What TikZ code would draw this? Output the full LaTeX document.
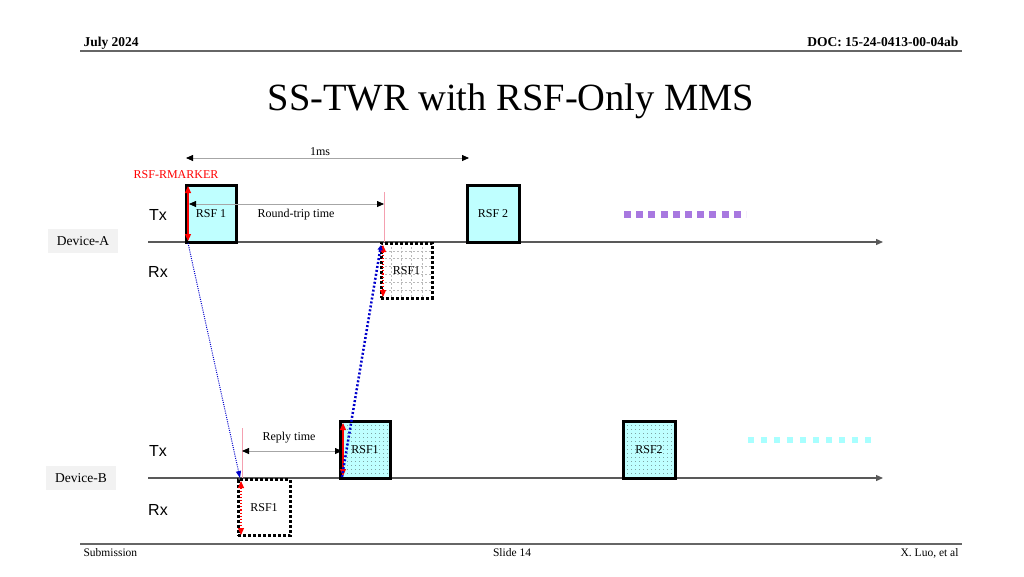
\documentclass[tikz,border=0pt]{standalone}
\usepackage{fontspec}
\setmainfont{Liberation Serif}
\newfontfamily\txfont{Liberation Sans}
\usetikzlibrary{arrows.meta,patterns,patterns.meta,calc}
\definecolor{cyanfill}{HTML}{BFFFFF}
\definecolor{purpsq}{HTML}{A878E0}
\definecolor{cyansq}{HTML}{A8FFFF}
\definecolor{lgray}{HTML}{F2F2F2}
\definecolor{pinkline}{HTML}{F4A0B0}
\begin{document}
\begin{tikzpicture}[x=1pt,y=-1pt,
  txbox/.style={draw=black,line width=3pt,fill=cyanfill,inner sep=0pt,outer sep=0pt,font=\fontsize{12}{13}\selectfont},
  dotbox/.style={txbox,fill=none,preaction={fill=cyanfill},pattern={Dots[distance=4pt,radius=0.45pt]},pattern color=black!85},
  rxbox/.style={draw=black,line width=3pt,dash pattern=on 3pt off 2pt,inner sep=0pt,outer sep=0pt,font=\fontsize{12}{13}\selectfont,
    path picture={\foreach \i in {1,...,6}{\draw[gray!55,line width=0.5pt,dash pattern=on 2pt off 2pt] ($(path picture bounding box.north west)!\i/7!(path picture bounding box.south west)$) -- ($(path picture bounding box.north east)!\i/7!(path picture bounding box.south east)$);}
      \foreach \i in {1,...,4}{\draw[gray!55,line width=0.5pt,dash pattern=on 2pt off 2pt] ($(path picture bounding box.north west)!\i/5!(path picture bounding box.north east)$) -- ($(path picture bounding box.south west)!\i/5!(path picture bounding box.south east)$);}}},
  rxplain/.style={draw=black,line width=3pt,dash pattern=on 3pt off 2pt,inner sep=0pt,outer sep=0pt,font=\fontsize{12}{13}\selectfont},
  timeline/.style={draw=black!65,line width=1.3pt,-{Triangle[length=7pt,width=6pt]}},
  dimarrow/.style={draw=black!35,line width=0.8pt,{Triangle[length=7pt,width=6pt,black]}-{Triangle[length=7pt,width=6pt,black]}},
  redarrow/.style={draw=red,line width=1.1pt,{Triangle[length=7pt,width=6pt]}-{Triangle[length=7pt,width=6pt]}},
  reddot/.style={redarrow,dotted},
  pinkmark/.style={draw=pinkline,line width=0.8pt},
  devlabel/.style={fill=lgray,inner xsep=9pt,inner ysep=7pt,font=\fontsize{13.5}{14}\selectfont},
  sidelabel/.style={font=\txfont\fontsize{16}{17}\selectfont},
  smalltext/.style={font=\fontsize{12}{13}\selectfont},
  hdr/.style={font=\bfseries\fontsize{13.5}{14}\selectfont},
  ftr/.style={font=\fontsize{11.5}{12}\selectfont}]
\useasboundingbox (0,0) rectangle (1024,576);
% header / footer
\node[hdr,anchor=base west] (hl) at (80,46) {July 2024};
\node[hdr,anchor=base east] (hr) at (962,46) {DOC: 15-24-0413-00-04ab};
\draw[black!60,line width=2pt] (80,51) -- (962,51);
\draw[black!60,line width=2pt] (80,544) -- (962,544);
\node[ftr,anchor=north west] (f1) at (80,545) {Submission};
\node[ftr,anchor=north] (f2) at (512,545) {Slide 14};
\node[ftr,anchor=north east] (f3) at (962,545) {X. Luo, et al};
\node[font=\fontsize{38.5}{42}\selectfont] (title) at (511,101) {SS-TWR with RSF-Only MMS};
% timelines
\coordinate (a0) at (148,242); \coordinate (a1) at (883,242);
\coordinate (b0) at (148,478); \coordinate (b1) at (883,478);
\draw[timeline] (a0) -- (a1);
\draw[timeline] (b0) -- (b1);
\node[devlabel] (devA) at (83,241) {Device-A};
\node[devlabel] (devB) at (81,478) {Device-B};
\node[sidelabel] (txA) at (158,215) {Tx};
\node[sidelabel] (rxA) at (158,272) {Rx};
\node[sidelabel] (txB) at (158,451) {Tx};
\node[sidelabel] (rxB) at (158,510) {Rx};
% boxes
\node[txbox,minimum width=50pt,minimum height=57pt] (A1) at (211,213.5) {RSF 1};
\node[txbox,minimum width=52pt,minimum height=57pt] (A2) at (493,213.5) {RSF 2};
\node[rxbox,minimum width=51pt,minimum height=55pt] (AR) at (406.5,270.5) {RSF1};
\node[dotbox,minimum width=50pt,minimum height=57pt] (B1) at (365,449.5) {RSF1};
\node[dotbox,minimum width=52pt,minimum height=57pt] (B2) at (649,449.5) {RSF2};
\node[rxplain,minimum width=52pt,minimum height=56pt] (BR) at (264,507.5) {RSF1};
% continuation squares
\coordinate (p0) at (624,214); \coordinate (p1) at (746,214);
\draw[purpsq,line width=7pt,dash pattern=on 7pt off 5.2pt] (p0) -- (p1);
\coordinate (c0) at (748,440); \coordinate (c1) at (872,440);
\draw[cyansq,line width=6pt,dash pattern=on 6pt off 7pt] (c0) -- (c1);
% 1ms
\coordinate (m0) at (186,158); \coordinate (m1) at (469,158);
\draw[dimarrow] (m0) -- (m1);
\node[smalltext] (ms) at (320,152) {1ms};
\node[smalltext,text=red] (rm) at (176,175) {RSF-RMARKER};
% red markers
\coordinate (r1a) at (188,186); \coordinate (r1b) at (188,241);
\draw[redarrow] (r1a) -- (r1b);
\coordinate (r2a) at (383,245); \coordinate (r2b) at (383,297);
\draw[reddot] (r2a) -- (r2b);
\coordinate (r3a) at (343,423); \coordinate (r3b) at (343,476);
\draw[redarrow] (r3a) -- (r3b);
\coordinate (r4a) at (241,481); \coordinate (r4b) at (241,535);
\draw[reddot] (r4a) -- (r4b);
% pink marks
\coordinate (k1a) at (384,192); \coordinate (k1b) at (384,242);
\draw[pinkmark] (k1a) -- (k1b);
\coordinate (k2a) at (242,428); \coordinate (k2b) at (242,478);
\draw[pinkmark] (k2a) -- (k2b);
% round trip / reply
\coordinate (rt0) at (189,204); \coordinate (rt1) at (384,204);
\draw[dimarrow] (rt0) -- (rt1);
\node[smalltext] (rtl) at (296,215) {Round-trip time};
\coordinate (rp0) at (242,451); \coordinate (rp1) at (342,451);
\draw[dimarrow] (rp0) -- (rp1);
\node[smalltext] (rpl) at (289,438) {Reply time};
% message flights
\coordinate (f1a) at (188,243); \coordinate (f1b) at (240,478);
\draw[blue!80!black,line width=1pt,dash pattern=on 1pt off 1.2pt,-{Triangle[length=7pt,width=5pt]}] (f1a) -- (f1b);
\coordinate (f2a) at (342,477); \coordinate (f2b) at (381,245);
\draw[blue!80!black,line width=2.5pt,dash pattern=on 2pt off 2pt,-{Triangle[length=5pt,width=5pt]}] (f2a) -- (f2b);
\end{tikzpicture}
\end{document}
